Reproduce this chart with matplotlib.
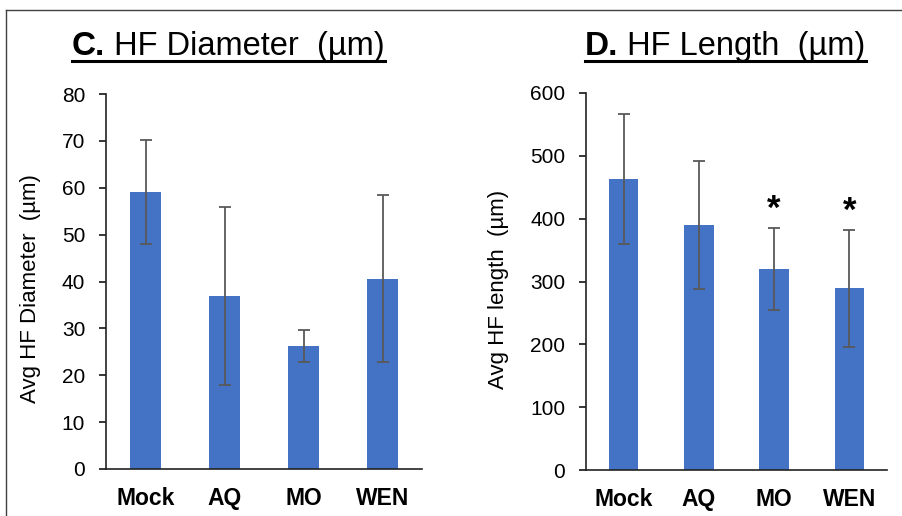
import matplotlib
matplotlib.use("Agg")
import matplotlib.pyplot as plt
from matplotlib.lines import Line2D

plt.rcParams["font.family"] = ["Liberation Sans", "DejaVu Sans"]

groups = ["Mock", "AQ", "MO", "WEN"]
diam_mean = [59.1, 37.0, 26.2, 40.6]
diam_err = [11.0, 19.0, 3.4, 17.8]
len_mean = [463, 390, 320, 289]
len_err = [104, 102, 65, 93]
len_signif = [False, False, True, True]

BAR = "#4472C4"
ERR = "#595959"
W, H = 902, 516


def px(x, y):
    return x / W, 1 - y / H


def draw_panel(ax, means, errs, ylim, step, ylabel, label_x, label_y):
    x = range(len(groups))
    ax.bar(x, means, width=0.39, color=BAR, zorder=2)
    ax.errorbar(x, means, yerr=errs, fmt="none", ecolor=ERR, elinewidth=1.3,
                capsize=4.2, capthick=1.3, zorder=3)
    ax.set_xlim(-0.5, len(groups) - 0.5)
    ax.set_ylim(0, ylim)
    ax.set_yticks(range(0, ylim + 1, step))
    ax.set_xticks(list(x))
    ax.set_xticklabels(groups, fontsize=16.5, fontweight="bold")
    ax.tick_params(axis="x", length=0, pad=13)
    ax.tick_params(axis="y", length=5, width=1.1, labelsize=15, pad=10, direction="out")
    for s in ["top", "right"]:
        ax.spines[s].set_visible(False)
    for s in ["left", "bottom"]:
        ax.spines[s].set_linewidth(1.2)
        ax.spines[s].set_color("#222222")
    ax.set_ylabel(ylabel, fontsize=16)
    ax.yaxis.set_label_coords(label_x, label_y)


def title(fig, x, y, bold, rest):
    t1 = fig.text(*px(x, y), bold, fontsize=24, fontweight="bold", va="baseline")
    fig.canvas.draw()
    r = fig.canvas.get_renderer()
    b1 = t1.get_window_extent(r)
    t2 = fig.text(b1.x1 / W, 1 - y / H, rest, fontsize=23.5, va="baseline")
    fig.canvas.draw()
    b2 = t2.get_window_extent(r)
    fig.add_artist(Line2D([b1.x0 / W, b2.x1 / W], [1 - (y + 6) / H] * 2,
                          color="black", linewidth=2.2))


fig = plt.figure(figsize=(W / 100, H / 100), dpi=100)

ax1 = fig.add_axes([106 / W, 1 - 469 / H, 316 / W, 375 / H])
draw_panel(ax1, diam_mean, diam_err, 80, 10, "Avg HF Diameter  (\u00b5m)", -0.205, 0.48)

ax2 = fig.add_axes([586 / W, 1 - 470 / H, 301 / W, 377 / H])
draw_panel(ax2, len_mean, len_err, 600, 100, "Avg HF length  (\u00b5m)", -0.255, 0.48)
for i, flag in enumerate(len_signif):
    if flag:
        ax2.text(i, len_mean[i] + len_err[i] + 4, "*", ha="center", va="bottom",
                 fontsize=25, fontweight="bold")

title(fig, 72, 55, "C.", " HF Diameter  (\u00b5m)")
title(fig, 585, 55, "D.", " HF Length  (\u00b5m)")

# frame lines along the top and left edge
fig.add_artist(Line2D([6 / W, 1], [1 - 10 / H] * 2, color="#404040", linewidth=1))
fig.add_artist(Line2D([6 / W, 6 / W], [1 - 10 / H, 0], color="#404040", linewidth=1))

fig.savefig("out.png", dpi=100)
